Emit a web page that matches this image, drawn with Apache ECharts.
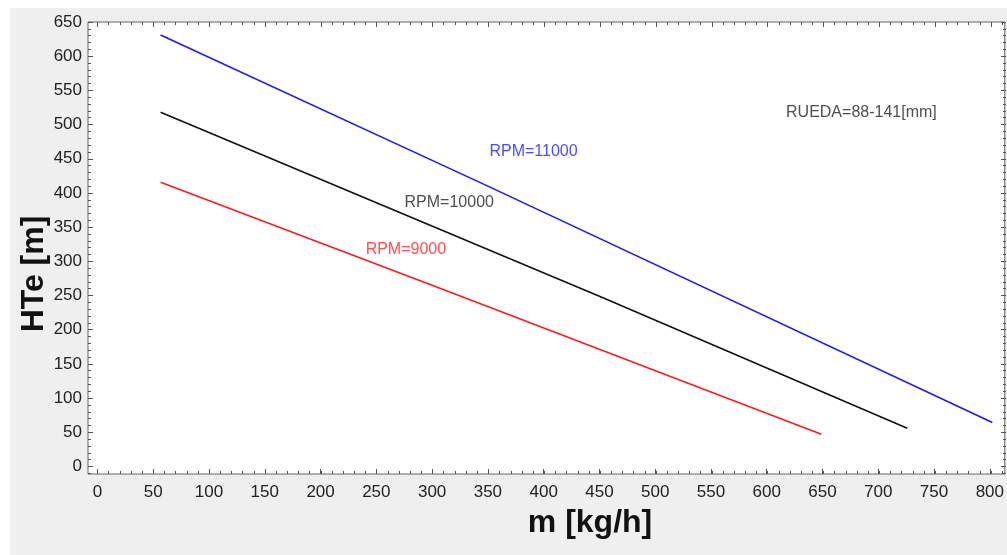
<!DOCTYPE html>
<html>
<head>
<meta charset="utf-8">
<script src="https://cdn.jsdelivr.net/npm/echarts@6/dist/echarts.min.js"></script>
<style>
  html, body { margin: 0; padding: 0; background: #ffffff; }
  #chart { width: 1007px; height: 555px; }
</style>
</head>
<body>
<div id="chart"></div>
<script>
// Mass flow m [kg/h] and head HTe [m] for each rotor speed
const mass9000  = [56.6, 300, 649];
const head9000  = [415.7, 265, 47.2];
const mass10000 = [56.6, 450, 726];
const head10000 = [518, 249, 56];
const mass11000 = [56.6, 350, 802.3];
const head11000 = [631, 410, 64.3];

// Curve annotations: text, anchor (x, y) in data units, colour
const noteTexts  = ['RPM=11000', 'RPM=10000', 'RPM=9000', 'RUEDA=88-141[mm]'];
const noteX      = [351.4, 275.3, 240.4, 617.3];
const noteY      = [460.7, 386, 317, 517.9];
const noteColors = ['#1a1aff', '#222222', '#ff2020', '#222222'];

// Axis ranges of the plot frame and the labelled / minor tick positions
const xRange = [-8.5, 813.4];
const yRange = [-11, 650];
const xMajorTicks = [0, 50, 100, 150, 200, 250, 300, 350, 400, 450, 500, 550, 600, 650, 700, 750, 800];
const yMajorTicks = [0, 50, 100, 150, 200, 250, 300, 350, 400, 450, 500, 550, 600, 650];
const xMinorTicks = [];
for (let v = 0; v <= 810; v += 10) xMinorTicks.push(v);
const yMinorTicks = [];
for (let v = -10; v <= 650; v += 10) yMinorTicks.push(v);

const FONT = '"Liberation Sans", Arial, sans-serif';
const TICK_COLOR = '#555555';
const FRAME = { left: 88, top: 22, width: 918, height: 452 };

const zip = (xs, ys) => xs.map((x, i) => [x, ys[i]]);

function axis(gridIndex, position, range, ticks, len, labels) {
  return {
    type: 'value',
    gridIndex: gridIndex,
    position: position,
    min: range[0],
    max: range[1],
    axisLine: { show: false, onZero: false },
    axisTick: { show: true, inside: true, length: len, customValues: ticks,
                lineStyle: { color: TICK_COLOR, width: 1 } },
    splitLine: { show: false },
    axisLabel: labels
      ? { show: true, customValues: ticks, color: '#222222', fontSize: 17, fontFamily: FONT,
          margin: (position === 'bottom') ? 10 : 6 }
      : { show: false }
  };
}

const chart = echarts.init(document.getElementById('chart'), null, { renderer: 'canvas' });

chart.setOption({
  animation: false,
  backgroundColor: '#ffffff',
  graphic: [
    { type: 'rect', z: -10, shape: { x: 10, y: 8, width: 997, height: 547 }, style: { fill: '#efefef' } },
    { type: 'text', x: 34, y: 274, rotation: Math.PI / 2,
      style: { text: 'HTe [m]', font: 'bold 32px ' + FONT, fill: '#111111', align: 'center', verticalAlign: 'middle' } },
    { type: 'text', x: 590, y: 523,
      style: { text: 'm [kg/h]', font: 'bold 32px ' + FONT, fill: '#111111', align: 'center', verticalAlign: 'middle' } }
  ],
  grid: [
    Object.assign({ show: true, backgroundColor: '#ffffff', borderColor: '#666666', borderWidth: 1 }, FRAME),
    Object.assign({}, FRAME),
    Object.assign({}, FRAME),
    Object.assign({}, FRAME)
  ],
  xAxis: [
    axis(0, 'bottom', xRange, xMajorTicks, 5, true),
    axis(1, 'bottom', xRange, xMinorTicks, 3, false),
    axis(2, 'top', xRange, xMajorTicks, 5, false),
    axis(3, 'top', xRange, xMinorTicks, 3, false)
  ],
  yAxis: [
    axis(0, 'left', yRange, yMajorTicks, 5, true),
    axis(1, 'left', yRange, yMinorTicks, 3, false),
    axis(2, 'right', yRange, yMajorTicks, 5, false),
    axis(3, 'right', yRange, yMinorTicks, 3, false)
  ],
  series: [
    { name: 'RPM=9000', type: 'line', xAxisIndex: 0, yAxisIndex: 0,
      showSymbol: false, symbol: 'none', data: zip(mass9000, head9000),
      lineStyle: { color: '#ff1a1a', width: 1.6 } },
    { name: 'RPM=10000', type: 'line', xAxisIndex: 0, yAxisIndex: 0,
      showSymbol: false, symbol: 'none', data: zip(mass10000, head10000),
      lineStyle: { color: '#111111', width: 1.6 } },
    { name: 'RPM=11000', type: 'line', xAxisIndex: 0, yAxisIndex: 0,
      showSymbol: false, symbol: 'none', data: zip(mass11000, head11000),
      lineStyle: { color: '#1a1aff', width: 1.6 } },
    { name: 'notes', type: 'scatter', xAxisIndex: 0, yAxisIndex: 0, symbolSize: 0, silent: true,
      data: noteTexts.map((t, i) => ({
        value: [noteX[i], noteY[i]],
        label: { show: true, position: 'right', distance: 0, formatter: t,
                 color: noteColors[i], fontSize: 16, fontFamily: FONT }
      })) }
  ]
});
</script>
</body>
</html>
